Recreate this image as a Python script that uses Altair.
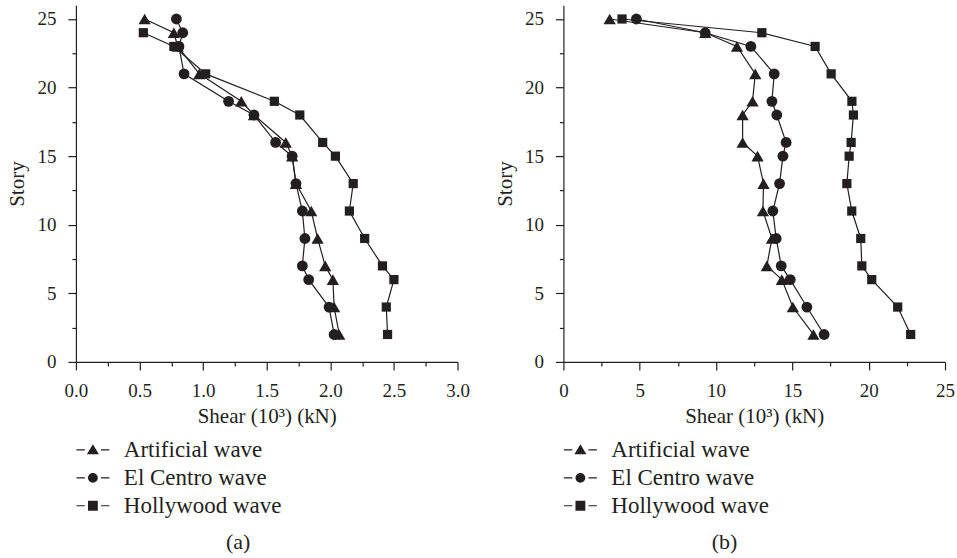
import altair as alt
import pandas as pd

# ---------------- data ----------------
stories = [25, 24, 23, 21, 19, 18, 16, 15, 13, 11, 9, 7, 6, 4, 2]
series_names = ["Artificial wave", "El Centro wave", "Hollywood wave"]

# panel (a)
a_artificial = [0.54, 0.77, 0.80, 0.97, 1.30, 1.40, 1.65, 1.70, 1.73, 1.85, 1.90, 1.96, 2.02, 2.03, 2.07]
a_elcentro = [0.79, 0.84, 0.81, 0.85, 1.20, 1.40, 1.57, 1.70, 1.73, 1.78, 1.80, 1.78, 1.83, 1.99, 2.03]
a_hollywood_stories = [24, 23, 21, 19, 18, 16, 15, 13, 11, 9, 7, 6, 4, 2]
a_hollywood = [0.53, 0.77, 1.02, 1.56, 1.76, 1.94, 2.04, 2.18, 2.15, 2.27, 2.41, 2.50, 2.44, 2.45]

# panel (b)
b_artificial = [3.03, 9.29, 11.37, 12.57, 12.39, 11.74, 11.74, 12.72, 13.11, 13.07, 13.66, 13.33, 14.31, 15.03, 16.38]
b_elcentro = [4.78, 9.29, 12.28, 13.81, 13.66, 13.98, 14.59, 14.38, 14.16, 13.72, 13.94, 14.27, 14.86, 15.95, 17.08]
b_hollywood = [3.84, 13.0, 16.49, 17.54, 18.9, 19.0, 18.85, 18.72, 18.57, 18.89, 19.48, 19.55, 20.2, 21.9, 22.75]

# axis tick values (major + minor)
a_x_ticks = [0.0, 0.25, 0.5, 0.75, 1.0, 1.25, 1.5, 1.75, 2.0, 2.25, 2.5, 2.75, 3.0]
b_x_ticks = [0, 2.5, 5, 7.5, 10, 12.5, 15, 17.5, 20, 22.5, 25]
y_ticks = [0, 2.5, 5, 7.5, 10, 12.5, 15, 17.5, 20, 22.5, 25]

INK = "#231f20"
FONT = "Liberation Serif"

# legend glyphs: short dash - marker - short dash (dashes drawn as thin filled bars)
DASHES = "M-2.75,-0.1H-1.35V0.1H-2.75ZM1.35,-0.1H2.75V0.1H1.35Z"
legend_paths = [
    DASHES + "M-1,0.75L0,-0.95L1,0.75Z",
    DASHES + "M0.82,0A0.82,0.82,0,1,1,-0.82,0A0.82,0.82,0,1,1,0.82,0Z",
    DASHES + "M-0.82,-0.82H0.82V0.82H-0.82Z",
]


def build_df(groups):
    rows = []
    for name, st, vals in groups:
        for s, v in zip(st, vals):
            rows.append({"series": name, "story": s, "shear": v})
    return pd.DataFrame(rows)


df_a = build_df([
    (series_names[0], stories, a_artificial),
    (series_names[1], stories, a_elcentro),
    (series_names[2], a_hollywood_stories, a_hollywood),
])
df_b = build_df([
    (series_names[0], stories, b_artificial),
    (series_names[1], stories, b_elcentro),
    (series_names[2], stories, b_hollywood),
])


def panel(df, xdom, xticks, x_major_test, x_label_expr, caption):
    x_axis = alt.Axis(
        values=xticks,
        title="Shear (10³) (kN)",
        labelExpr=x_label_expr,
        tickSize={"condition": {"test": x_major_test, "value": 8}, "value": 4},
        labelOverlap=False,
        labelFlush=False,
        labelPadding=12,
        titlePadding=5,
    )
    y_axis = alt.Axis(
        values=y_ticks,
        title="Story",
        labelExpr="datum.value % 5 == 0 ? datum.label : ''",
        tickSize={"condition": {"test": "datum.value % 5 == 0", "value": 8}, "value": 4},
        labelOverlap=False,
        labelFlush=False,
        labelPadding=12,
        titlePadding=9,
    )
    x = alt.X("shear:Q", scale=alt.Scale(domain=xdom, nice=False, zero=False), axis=x_axis)
    y = alt.Y("story:Q", scale=alt.Scale(domain=[0, 26], nice=False, zero=False), axis=y_axis)

    base = alt.Chart(df)
    lines = base.mark_line(color=INK, strokeWidth=1.2).encode(
        x=x, y=y, detail="series:N", order="story:Q"
    )
    points = base.mark_point(filled=True, color=INK, opacity=1).encode(
        x=x,
        y=y,
        shape=alt.Shape(
            "series:N",
            scale=alt.Scale(domain=series_names, range=["triangle-up", "circle", "square"]),
            legend=None,
        ),
        size=alt.Size(
            "series:N",
            scale=alt.Scale(domain=series_names, range=[150, 85, 100]),
            legend=None,
        ),
    )
    legend_layer = base.transform_filter("false").mark_point(
        filled=True, color=INK, opacity=1
    ).encode(
        x=x,
        y=y,
        shape=alt.Shape(
            "series:N",
            scale=alt.Scale(domain=series_names, range=legend_paths),
            legend=alt.Legend(
                orient="none",
                legendX=5.5,
                legendY=433.5,
                title=None,
                direction="vertical",
                padding=0,
                symbolSize=144,
                symbolFillColor=INK,
                symbolOpacity=1,
                labelFont=FONT,
                labelFontSize=23,
                labelColor=INK,
                labelOffset=19.5,
                rowPadding=4,
            ),
        ),
    )
    return (
        alt.layer(lines, points, legend_layer)
        .resolve_scale(shape="independent", size="independent")
        .properties(
            width=382,
            height=357,
            title=alt.TitleParams(
                caption,
                orient="bottom",
                frame="bounds",
                anchor="middle",
                offset=14,
                font=FONT,
                fontSize=22,
                fontWeight="normal",
                color=INK,
            ),
        )
    )


chart_a = panel(
    df_a, [0, 3], a_x_ticks,
    "datum.value * 2 == round(datum.value * 2)",
    "datum.value * 2 == round(datum.value * 2) ? format(datum.value, '.1f') : ''",
    "(a)",
)
chart_b = panel(
    df_b, [0, 25], b_x_ticks,
    "datum.value % 5 == 0",
    "datum.value % 5 == 0 ? datum.label : ''",
    "(b)",
)

chart = (
    alt.hconcat(chart_a, chart_b, spacing=106, bounds="flush")
    .properties(padding={"left": 7, "top": 5, "right": 2, "bottom": 2}, background="white")
    .configure_view(stroke=None)
    .configure_axis(
        grid=False,
        domainColor=INK,
        domainWidth=1.2,
        tickColor=INK,
        tickWidth=1.2,
        labelFont=FONT,
        labelFontSize=19,
        labelColor=INK,
        titleFont=FONT,
        titleFontSize=21,
        titleFontWeight="normal",
        titleColor=INK,
    )
)

chart.save("out.html", embed_options={"renderer": "svg", "actions": False})
